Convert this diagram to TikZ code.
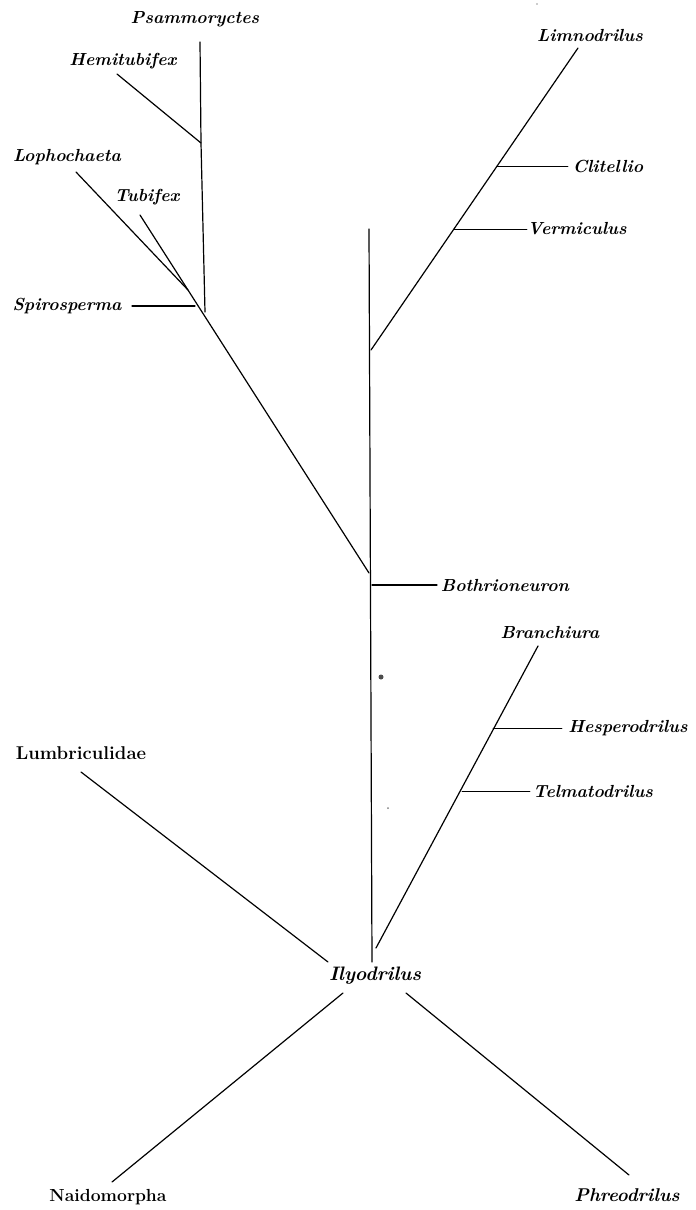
\documentclass[tikz,border=0pt]{standalone}
\usepackage{fontspec}
\begin{document}
\begin{tikzpicture}[x=1pt,y=-1pt,
  lab/.style={font=\fontsize{17.5}{20}\selectfont\bfseries\itshape, inner sep=1pt},
  labup/.style={font=\fontsize{18.5}{20}\selectfont\bfseries, inner sep=1pt},
  br/.style={line width=1.2pt, line cap=round},
  thin br/.style={line width=0.9pt, line cap=round}]
\useasboundingbox (0,0) rectangle (696,1210);
% labels
\node[lab] (psam) at (195,19) {Psammoryctes};
\node[lab] (hemi) at (123,61) {Hemitubifex};
\node[lab] (loph) at (67,157) {Lophochaeta};
\node[lab] (tubi) at (147,197) {Tubifex};
\node[lab] (spir) at (67,306) {Spirosperma};
\node[lab] (limn) at (590,35) {Limnodrilus};
\node[lab] (clit) at (608,166) {Clitellio};
\node[lab] (verm) at (577,229) {Vermiculus};
\node[lab] (both) at (505,585) {Bothrioneuron};
\node[lab] (bran) at (550,632) {Branchiura};
\node[lab] (hesp) at (628,728) {Hesperodrilus};
\node[lab] (telm) at (593,791) {Telmatodrilus};
\node[labup] (lumb) at (81,753) {Lumbriculidae};
\node[lab, font=\fontsize{19.5}{20}\selectfont\bfseries\itshape] (ilyo) at (375,976) {Ilyodrilus};
\node[labup, font=\fontsize{17.5}{20}\selectfont\bfseries] (naid) at (108,1197) {Naidomorpha};
\node[lab, font=\fontsize{18.5}{20}\selectfont\bfseries\itshape] (phre) at (627,1195) {Phreodrilus};
% coordinates
\coordinate (psTop) at (200,42);
\coordinate (hJ) at (201,143);
\coordinate (psBot) at (205,312);
\coordinate (heEnd) at (117,74);
\coordinate (loEnd) at (76,172);
\coordinate (loJ) at (188,290);
\coordinate (tuEnd) at (140,215);
\coordinate (boJ) at (369,573);
\coordinate (spL) at (132,306);
\coordinate (spR) at (195,306);
\coordinate (liEnd) at (578,48);
\coordinate (liJ) at (371,350);
\coordinate (clJ) at (497,166);
\coordinate (clE) at (568,166);
\coordinate (veJ) at (454,229);
\coordinate (veE) at (527,229);
\coordinate (vTop) at (369,229);
\coordinate (vBot) at (372,962);
\coordinate (boL) at (372,585);
\coordinate (boR) at (437,585);
\coordinate (brEnd) at (538,646);
\coordinate (brJ) at (376,948);
\coordinate (heJ) at (493,728);
\coordinate (heE) at (562,728);
\coordinate (teJ) at (462,791);
\coordinate (teE) at (530,791);
\coordinate (luEnd) at (81,772);
\coordinate (luJ) at (328,962);
\coordinate (naTop) at (343,993);
\coordinate (naEnd) at (112,1182);
\coordinate (phTop) at (406,993);
\coordinate (phEnd) at (629,1175);
% branches
\draw[br] (psTop) -- (hJ) -- (psBot);
\draw[br] (heEnd) -- (hJ);
\draw[br] (loEnd) -- (loJ);
\draw[br] (tuEnd) -- (boJ);
\draw[br] (spL) -- (spR);
\draw[br] (liEnd) -- (liJ);
\draw[thin br] (clJ) -- (clE);
\draw[thin br] (veJ) -- (veE);
\draw[br] (vTop) -- (vBot);
\draw[br] (boL) -- (boR);
\draw[br] (brEnd) -- (brJ);
\draw[thin br] (heJ) -- (heE);
\draw[thin br] (teJ) -- (teE);
\draw[br] (luEnd) -- (luJ);
\draw[br] (naTop) -- (naEnd);
\draw[br] (phTop) -- (phEnd);
% specks
\fill[black!70] (381,677) circle (2.5);
\fill[black!50] (388,808) circle (1);
\fill[black!40] (537,4) circle (0.8);
\end{tikzpicture}
\end{document}
